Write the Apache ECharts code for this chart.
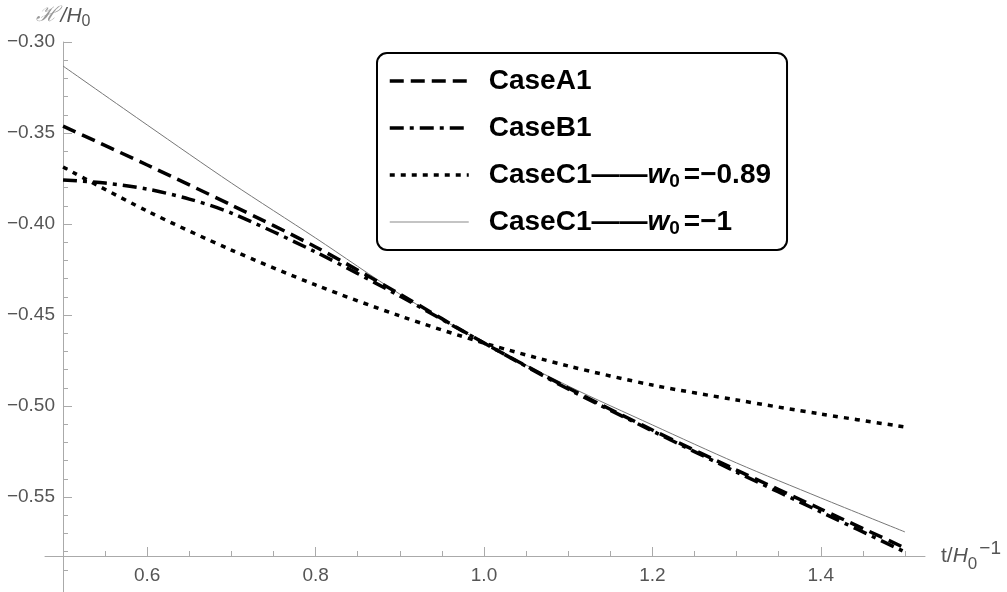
<!DOCTYPE html>
<html>
<head>
<meta charset="utf-8">
<script src="https://cdn.jsdelivr.net/npm/echarts@6/dist/echarts.min.js"></script>
<style>
  html, body { margin: 0; padding: 0; background: #fff; }
  #main { width: 1007px; height: 592px; }
</style>
</head>
<body>
<div id="main"></div>
<script>
// t/H0^-1 sample points
var xs = [0.5, 0.6, 0.7, 0.8, 0.9, 1.0, 1.1, 1.2, 1.3, 1.4, 1.5];
var caseA1 = [-0.3462, -0.3676, -0.3896, -0.4126, -0.4385, -0.4654, -0.4901, -0.5132, -0.5352, -0.5566, -0.5780];
var caseB1X = [0.5, 0.55, 0.6, 0.65, 0.7, 0.8, 0.9, 1.0, 1.1, 1.2, 1.3, 1.4, 1.5];
var caseB1 = [-0.3758, -0.3775, -0.3808, -0.3863, -0.3940, -0.4154, -0.4396, -0.4654, -0.4907, -0.5137, -0.5363, -0.5582, -0.5802];
var caseC1w089 = [-0.3687, -0.3929, -0.4143, -0.4335, -0.4505, -0.4654, -0.4780, -0.4885, -0.4967, -0.5044, -0.5115];
var caseC1w1 = [-0.3132, -0.3456, -0.3775, -0.4077, -0.4385, -0.4654, -0.4890, -0.5104, -0.5313, -0.5505, -0.5692];

var seriesNames = ['CaseA1', 'CaseB1', 'CaseC1——w0=−0.89', 'CaseC1——w0=−1'];
var legendLabels = [
  '{g| }CaseA1',
  '{g| }CaseB1',
  '{g| }CaseC1——{w|w}{s|0}=−0.89',
  '{g| }CaseC1——{w|w}{s|0}=−1'
];

var xMajor = [0.6, 0.8, 1.0, 1.2, 1.4];
var yMajor = [-0.55, -0.50, -0.45, -0.40, -0.35, -0.30];

// minor ticks every 0.05 on x, 0.01 on y
var xMinor = [];
for (var i = 10; i <= 30; i++) {
  if (i % 4 != 0) xMinor.push(i / 20);
}
var yMinor = [];
for (var j = -59; j <= -31; j++) {
  if (j % 5 != 0) yMinor.push(j / 100);
}

function pairs(xv, yv) {
  return xv.map(function (x, k) { return [x, yv[k]]; });
}

var axisGray = '#aaaaaa';
var labelGray = '#555555';
var fontFam = '"Liberation Sans", Arial, sans-serif';

var chart = echarts.init(document.getElementById('main'));

chart.setOption({
  animation: false,
  backgroundColor: '#fff',
  grid: { left: 45, right: 82, top: 42, bottom: 0 },
  xAxis: [{
    type: 'value',
    position: 'bottom',
    offset: -36,
    min: 0.47857,
    max: 1.52381,
    name: '{t|t/}{h|H}{s|0}{p|−1}',
    nameLocation: 'end',
    nameGap: 16,
    nameTextStyle: {
      color: labelGray,
      fontFamily: fontFam,
      fontSize: 21,
      rich: {
        t: { fontSize: 21, color: labelGray, lineHeight: 34 },
        h: { fontSize: 21, color: labelGray, fontStyle: 'italic', lineHeight: 34 },
        s: { fontSize: 17, color: labelGray, lineHeight: 20, verticalAlign: 'bottom' },
        p: { fontSize: 19, color: labelGray, lineHeight: 10, verticalAlign: 'top', padding: [0, 0, 0, 2] }
      }
    },
    axisLine: { lineStyle: { color: axisGray, width: 1 } },
    axisTick: { inside: true, length: 9, customValues: xMajor, lineStyle: { color: axisGray } },
    axisLabel: {
      customValues: xMajor,
      margin: 10,
      color: labelGray,
      fontSize: 19,
      fontFamily: fontFam,
      formatter: function (v) { return v.toFixed(1); }
    },
    splitLine: { show: false }
  }, {
    type: 'value',
    position: 'bottom',
    offset: -36,
    min: 0.47857,
    max: 1.52381,
    axisLine: { show: false },
    axisTick: { inside: true, length: 5, customValues: xMinor, lineStyle: { color: axisGray } },
    axisLabel: { show: false },
    splitLine: { show: false }
  }],
  yAxis: [{
    type: 'value',
    position: 'left',
    offset: -18,
    min: -0.6022,
    max: -0.30,
    name: '{k|ℋ}{h|/H}{s|0}',
    nameLocation: 'end',
    nameGap: 12,
    nameTextStyle: {
      color: labelGray,
      fontFamily: fontFam,
      fontSize: 21,
      rich: {
        k: { fontSize: 21, color: '#999999', fontStyle: 'italic', fontFamily: '"DejaVu Serif", serif', lineHeight: 28, padding: [0, 3, 0, 0] },
        h: { fontSize: 21, color: labelGray, fontStyle: 'italic', lineHeight: 28 },
        s: { fontSize: 16, color: labelGray, lineHeight: 18, verticalAlign: 'bottom' }
      }
    },
    axisLine: { lineStyle: { color: axisGray, width: 1 } },
    axisTick: { inside: true, length: 9, customValues: yMajor, lineStyle: { color: axisGray } },
    axisLabel: {
      customValues: yMajor,
      margin: 8,
      color: labelGray,
      fontSize: 19,
      fontFamily: fontFam,
      formatter: function (v) { return '−' + Math.abs(v).toFixed(2); }
    },
    splitLine: { show: false }
  }, {
    type: 'value',
    position: 'left',
    offset: -18,
    min: -0.6022,
    max: -0.30,
    axisLine: { show: false },
    axisTick: { inside: true, length: 5, customValues: yMinor, lineStyle: { color: axisGray } },
    axisLabel: { show: false },
    splitLine: { show: false }
  }],
  legend: {
    orient: 'vertical',
    left: 377,
    top: 53,
    padding: [12, 16, 12, 11],
    itemWidth: 79,
    itemHeight: 14,
    itemGap: 15,
    borderColor: '#000',
    borderWidth: 2,
    borderRadius: 10,
    backgroundColor: '#fff',
    itemStyle: { color: 'transparent', borderColor: 'transparent', borderWidth: 0 },
    data: [
      { name: seriesNames[0], lineStyle: { width: 3.5 } },
      { name: seriesNames[1], lineStyle: { width: 3.5 } },
      { name: seriesNames[2], lineStyle: { width: 3.5 } },
      { name: seriesNames[3], lineStyle: { width: 2, color: '#c4c4c4' } }
    ],
    formatter: function (name) {
      return legendLabels[seriesNames.indexOf(name)];
    },
    textStyle: {
      color: '#000',
      fontFamily: fontFam,
      fontWeight: 'bold',
      fontSize: 28,
      lineHeight: 32,
      rich: {
        g: { width: 15, fontSize: 28, lineHeight: 32 },
        w: { fontSize: 28, fontWeight: 'bold', fontStyle: 'italic', lineHeight: 32 },
        s: { fontSize: 19, fontWeight: 'bold', lineHeight: 20, verticalAlign: 'bottom', padding: [0, 4, 0, 0] }
      }
    }
  },
  series: [{
    name: seriesNames[0],
    type: 'line',
    data: pairs(xs, caseA1),
    smooth: 0.3,
    symbol: 'none',
    lineStyle: { color: '#000', width: 3.5, type: [14, 7] },
    z: 3
  }, {
    name: seriesNames[1],
    type: 'line',
    data: pairs(caseB1X, caseB1),
    smooth: 0.3,
    symbol: 'none',
    lineStyle: { color: '#000', width: 3.5, type: [14, 6, 4, 6] },
    z: 3
  }, {
    name: seriesNames[2],
    type: 'line',
    data: pairs(xs, caseC1w089),
    smooth: 0.3,
    symbol: 'none',
    lineStyle: { color: '#000', width: 3.5, type: [5, 6] },
    z: 3
  }, {
    name: seriesNames[3],
    type: 'line',
    data: pairs(xs, caseC1w1),
    smooth: 0.3,
    symbol: 'none',
    lineStyle: { color: '#777', width: 1 },
    z: 2
  }]
});
</script>
</body>
</html>
